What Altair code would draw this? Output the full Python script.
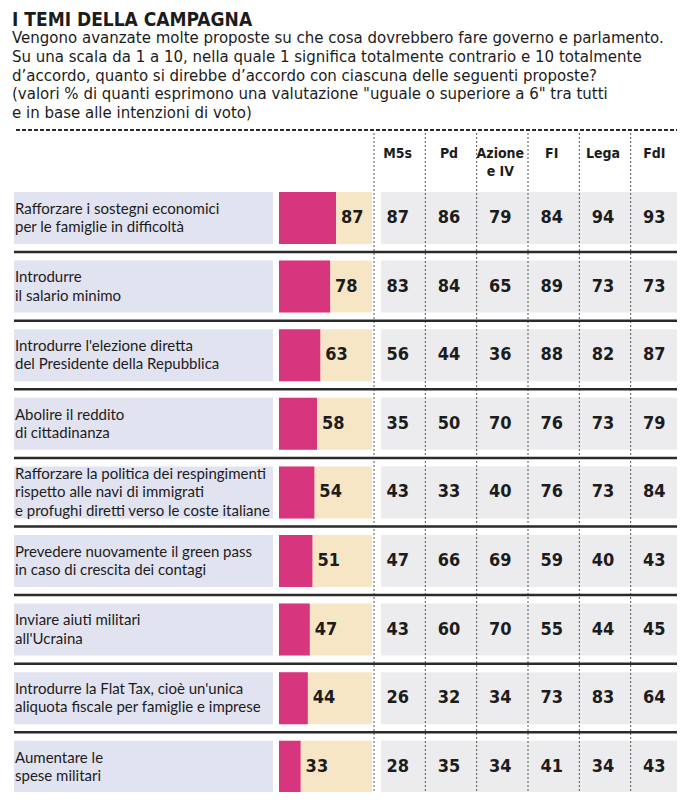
import altair as alt
import pandas as pd

# ---------------- data ----------------
titolo = "I TEMI DELLA CAMPAGNA"
sottotitolo = [
    "Vengono avanzate molte proposte su che cosa dovrebbero fare governo e parlamento.",
    "Su una scala da 1 a 10, nella quale 1 significa totalmente contrario e 10 totalmente",
    "d’accordo, quanto si direbbe d’accordo con ciascuna delle seguenti proposte?",
    "(valori % di quanti esprimono una valutazione \"uguale o superiore a 6\" tra tutti",
    "e in base alle intenzioni di voto)",
]
temi = [
    "Rafforzare i sostegni economici\nper le famiglie in difficoltà",
    "Introdurre\nil salario minimo",
    "Introdurre l'elezione diretta\ndel Presidente della Repubblica",
    "Abolire il reddito\ndi cittadinanza",
    "Rafforzare la politica dei respingimenti\nrispetto alle navi di immigrati\ne profughi diretti verso le coste italiane",
    "Prevedere nuovamente il green pass\nin caso di crescita dei contagi",
    "Inviare aiuti militari\nall'Ucraina",
    "Introdurre la Flat Tax, cioè un'unica\naliquota fiscale per famiglie e imprese",
    "Aumentare le\nspese militari",
]
totale = [87, 78, 63, 58, 54, 51, 47, 44, 33]
partiti = ["M5s", "Pd", "Azione e IV", "FI", "Lega", "FdI"]
intestazioni = ["M5s", "Pd", "Azione\ne IV", "FI", "Lega", "FdI"]
m5s = [87, 83, 56, 35, 43, 47, 43, 26, 28]
pd_ = [86, 84, 44, 50, 33, 66, 60, 32, 35]
azione = [79, 65, 36, 70, 40, 69, 70, 34, 34]
fi = [84, 89, 88, 76, 76, 59, 55, 73, 41]
lega = [94, 73, 82, 73, 73, 40, 44, 83, 34]
fdi = [93, 73, 87, 79, 84, 43, 45, 64, 43]

# ---------------- tables ----------------
df_rows = pd.DataFrame({"tema": temi, "tot": totale,
                        "righe": [t.count("\n") + 1 for t in temi]})
valori = [m5s, pd_, azione, fi, lega, fdi]
df_long = pd.DataFrame(
    [{"tema": t, "partito": p, "valore": valori[j][i]}
     for j, p in enumerate(partiti) for i, t in enumerate(temi)]
)
df_head = pd.DataFrame({"partito": partiti, "etichetta": intestazioni})
df_sep = pd.DataFrame({"tema": temi[1:]})
df_one = pd.DataFrame({"k": [0]})

# ---------------- styles ----------------
NARROW = "DejaVu Sans Condensed, Roboto, sans-serif"
BODY = "Lato, sans-serif"
SUBFONT = "DejaVu Sans, sans-serif"
INK = "#1c1c1c"
PINK = "#d8357f"
BEIGE = "#f7e6c6"
LAVENDER = "#e2e3f0"
GREY = "#ececef"
LH = 18.5

yscale = alt.Scale(domain=temi, range=[184, 784.8], paddingInner=0.242, paddingOuter=0)
Y = alt.Y("tema:N", sort=temi, scale=yscale, axis=None)
pscale = alt.Scale(domain=partiti, range=[366, 674], paddingInner=0, paddingOuter=0)
totscale = alt.Scale(domain=[0, 100], range=[271, 336.5])

base_rows = alt.Chart(df_rows)

lav = base_rows.mark_rect(color=LAVENDER).encode(
    y=Y, x=alt.value(6), x2=alt.value(265))
beige = base_rows.mark_rect(color=BEIGE).encode(
    y=Y, x=alt.value(271), x2=alt.value(364))
grey = base_rows.mark_rect(color=GREY).encode(
    y=Y, x=alt.value(373), x2=alt.value(672))

label_layers = []
for n in (2, 3):
    label_layers.append(
        base_rows.transform_filter(alt.datum.righe == n).mark_text(
            align="left", baseline="middle", font=BODY, fontSize=15, color=INK,
            lineBreak="\n", lineHeight=LH, dy=-(n - 1) * LH / 2
        ).encode(y=Y, x=alt.value(7), text="tema:N")
    )

bars = base_rows.mark_bar(color=PINK).encode(
    y=Y, x=alt.X("tot:Q", scale=totscale, axis=None))
bar_txt = base_rows.mark_text(
    align="left", baseline="middle", dx=5, font=NARROW, fontWeight="bold",
    fontSize=18, color=INK
).encode(y=Y, x=alt.X("tot:Q", scale=totscale, axis=None), text="tot:Q")

seps = alt.Chart(df_sep).mark_rule(color="#2a2a2a", strokeWidth=2.5, yOffset=-8.5).encode(
    y=alt.Y("tema:N", sort=temi, scale=yscale, axis=None, bandPosition=0),
    x=alt.value(6), x2=alt.value(673))

dots = alt.Chart(df_head).mark_rule(color="#555555", strokeWidth=1, strokeDash=[2, 2]).encode(
    x=alt.X("partito:N", sort=partiti, scale=pscale, axis=None, bandPosition=0),
    y=alt.value(125), y2=alt.value(784))

head = alt.Chart(df_head).mark_text(
    align="center", baseline="top", font=NARROW, fontWeight="bold", fontSize=14,
    color=INK, lineBreak="\n", lineHeight=18, dx=-2
).encode(
    x=alt.X("partito:N", sort=partiti, scale=pscale, axis=None),
    y=alt.value(139), text="etichetta:N")

nums = alt.Chart(df_long).mark_text(
    align="center", baseline="middle", font=NARROW, fontWeight="bold", fontSize=18,
    color=INK, dx=-2
).encode(
    x=alt.X("partito:N", sort=partiti, scale=pscale, axis=None),
    y=Y, text="valore:Q")

title = alt.Chart(df_one).mark_text(
    align="left", baseline="alphabetic", font=NARROW, fontWeight="bold", fontSize=19,
    color=INK
).encode(x=alt.value(4), y=alt.value(18), text=alt.value(titolo))

sub = alt.Chart(df_one).mark_text(
    align="left", baseline="middle", font=SUBFONT, fontSize=15, color=INK,
    lineBreak="\n", lineHeight=18.8
).encode(x=alt.value(4), y=alt.value(30), text=alt.value("\n".join(sottotitolo)))

dash = alt.Chart(df_one).mark_rule(color="#2a2a2a", strokeWidth=2, strokeDash=[4, 2]).encode(
    x=alt.value(8), x2=alt.value(673), y=alt.value(122))

chart = alt.layer(
    lav, beige, grey, bars, dots, seps, *label_layers, bar_txt, nums, head, title, sub, dash
).resolve_scale(x="independent").properties(
    width=669, height=784, autosize="none", padding=0, background="white"
).configure_view(stroke=None)

chart.save("out.html", embed_options={"renderer": "svg", "actions": False})
